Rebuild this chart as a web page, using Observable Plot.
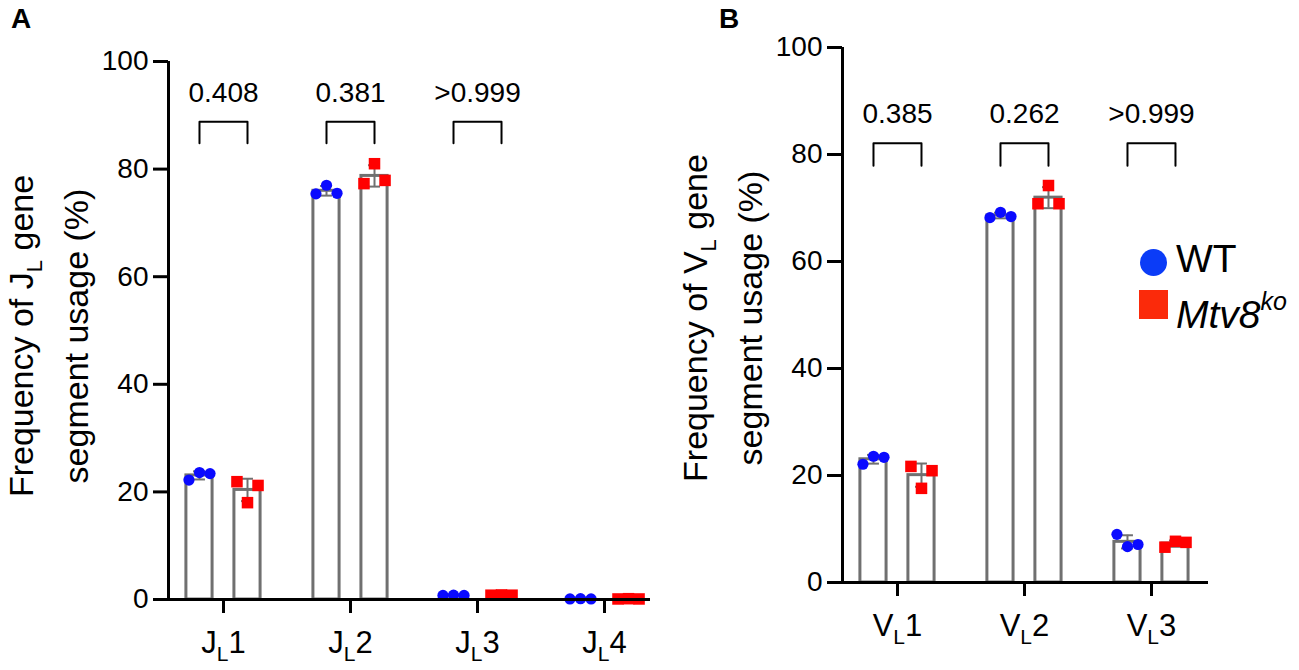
<!DOCTYPE html>
<html><head><meta charset="utf-8">
<script src="https://cdn.jsdelivr.net/npm/d3@7"></script>
<script src="https://cdn.jsdelivr.net/npm/@observablehq/plot@0.6"></script>
<style>
body{margin:0;background:#fff;font-family:"Liberation Sans",Arial,Helvetica,sans-serif;}
#fig{position:relative;width:1299px;height:670px;overflow:hidden;background:#fff;}
.panel{position:absolute;top:0;}
.lab{position:absolute;font-weight:bold;font-size:28px;line-height:28px;}
.ytitle{position:absolute;transform:translate(-50%,-50%) rotate(-90deg);white-space:nowrap;text-align:center;font-size:34px;line-height:50px;color:#000;}
.ytitle sub{font-size:22px;vertical-align:baseline;position:relative;top:9px;}
.leg{position:absolute;font-size:39px;line-height:39px;white-space:nowrap;}
.leg sup{font-size:25px;vertical-align:baseline;position:relative;top:-18px;}
</style></head><body>
<div id="fig">
  <div id="panelA" class="panel" style="left:0"></div>
  <div id="panelB" class="panel" style="left:660px"></div>
  <div class="lab" style="left:11px;top:5px">A</div>
  <div class="lab" style="left:719px;top:5px">B</div>
  <div class="ytitle" style="left:48px;top:336px">Frequency of J<sub>L</sub> gene<br>segment usage (%)</div>
  <div class="ytitle" style="left:722px;top:318px">Frequency of V<sub>L</sub> gene<br>segment usage (%)</div>
  <div style="position:absolute;left:1140px;top:249px;width:27px;height:27px;border-radius:50%;background:#0b3cf7"></div>
  <div class="leg" style="left:1176px;top:239px">WT</div>
  <div style="position:absolute;left:1139px;top:290px;width:29px;height:29px;background:#fb2a0a"></div>
  <div class="leg" style="left:1176px;top:295px;font-style:italic">Mtv8<sup>ko</sup></div>
</div>
<script>
// ---- data ----
const catsA = ["J_L1", "J_L2", "J_L3", "J_L4"];
const wtA = [[22.2, 23.6, 23.4], [75.4, 77.0, 75.5], [0.75, 0.8, 0.75], [0.1, 0.15, 0.1]];
const koA = [[21.9, 18.0, 21.2], [77.3, 81.0, 77.9], [0.8, 0.85, 0.8], [0.1, 0.15, 0.1]];
const pA = ["0.408", "0.381", ">0.999"];

const catsB = ["V_L1", "V_L2", "V_L3"];
const wtB = [[22.1, 23.6, 23.4], [68.2, 69.2, 68.4], [9.0, 6.7, 7.1]];
const koB = [[21.7, 17.6, 20.9], [70.8, 74.2, 70.8], [6.6, 7.7, 7.5]];
const pB = ["0.385", "0.262", ">0.999"];

const yTicks = [0, 20, 40, 60, 80, 100];

// ---- drawing ----
const GRAY = "#707070";
function build(cats, wt, ko, pvals, o) {
  const OFF = 0.189, HW = 0.103, DOT = 0.083, CAP = 0.047;
  const bars = [], pts = [];
  cats.forEach((c, i) => {
    [[wt[i], "WT", -1], [ko[i], "KO", 1]].forEach(([vals, g, s]) => {
      const m = d3.mean(vals), sd = d3.deviation(vals);
      const cx = i + s * OFF;
      bars.push({x1: cx - HW, x2: cx + HW, mean: m, lo: m - sd, hi: m + sd, cx, g});
      vals.forEach((v, k) => pts.push({x: cx + (k - 1) * DOT, y: v, g}));
    });
  });
  const brPts = pvals.flatMap((p, i) =>
    [[i - OFF, o.brLeg], [i - OFF, o.brTop], [i + OFF, o.brTop], [i + OFF, o.brLeg]]
      .map(([x, y]) => ({x, y, i})));
  const brTxt = pvals.map((p, i) => ({x: i, p}));
  const svg = Plot.plot({
    width: o.width, height: 670,
    marginLeft: o.ml, marginRight: o.mr, marginTop: o.mt, marginBottom: o.mb,
    x: {domain: o.xdom, axis: null},
    y: {domain: [0, 100], axis: null},
    style: {fontFamily: "'Liberation Sans', Arial, sans-serif", background: "white", color: "black"},
    marks: [
      Plot.rectY(bars, {x1: "x1", x2: "x2", y1: 0, y2: "mean", fill: "white", stroke: GRAY, strokeWidth: 3}),
      Plot.ruleX(bars, {x: "cx", y1: "lo", y2: "hi", stroke: GRAY, strokeWidth: 2}),
      Plot.ruleY(bars, {y: "hi", x1: d => d.cx - CAP, x2: d => d.cx + CAP, stroke: GRAY, strokeWidth: 2}),
      Plot.ruleY(bars, {y: "lo", x1: d => d.cx - CAP, x2: d => d.cx + CAP, stroke: GRAY, strokeWidth: 2}),
      Plot.dot(pts.filter(d => d.g === "WT"), {x: "x", y: "y", r: 5.6, fill: "#0a0aff", symbol: "circle"}),
      Plot.dot(pts.filter(d => d.g === "KO"), {x: "x", y: "y", r: 6.5, fill: "#ff0000", symbol: "square"}),
      Plot.line(brPts, {x: "x", y: "y", z: "i", stroke: "black", strokeWidth: 2}),
      Plot.text(brTxt, {x: "x", y: () => o.pText, text: "p", fontSize: 28, lineAnchor: "bottom", fill: "black"}),
      Plot.ruleY([0], {stroke: "black", strokeWidth: 3}),
      Plot.ruleX([o.xdom[0]], {stroke: "black", strokeWidth: 3}),
      Plot.axisY(yTicks, {tickSize: 15, tickPadding: 5, fontSize: 28, strokeWidth: 3, stroke: "black"}),
      Plot.axisX(d3.range(cats.length), {tickSize: 14, tickPadding: 17, fontSize: 31, strokeWidth: 3, stroke: "black", tickFormat: i => cats[i]})
    ]
  });
  // thicker tick marks
  svg.querySelectorAll('[aria-label="y-axis tick"], [aria-label="x-axis tick"]').forEach(g => {
    g.setAttribute("stroke-width", "3");
    g.querySelectorAll("path,line").forEach(p => p.setAttribute("stroke-width", "3"));
  });
  // subscript in x tick labels
  svg.querySelectorAll('[aria-label="x-axis tick label"] text').forEach(t => {
    const s = t.textContent;
    const [main, rest] = s.split("_");
    const sub = rest[0], tail = rest.slice(1);
    t.textContent = "";
    const ns = "http://www.w3.org/2000/svg";
    const a = document.createElementNS(ns, "tspan"); a.textContent = main;
    const b = document.createElementNS(ns, "tspan"); b.textContent = sub;
    b.setAttribute("font-size", "21"); b.setAttribute("dy", "8");
    const c = document.createElementNS(ns, "tspan"); c.textContent = tail;
    c.setAttribute("dy", "-8");
    t.append(a, b, c);
  });
  return svg;
}

document.getElementById("panelA").append(build(catsA, wtA, koA, pA, {
  width: 660, ml: 168, mr: 10, mt: 61, mb: 71, xdom: [-0.433, 3.362],
  brLeg: 84.8, brTop: 88.8, pText: 92.4
}));
document.getElementById("panelB").append(build(catsB, wtB, koB, pB, {
  width: 639, ml: 182, mr: 91, mt: 47, mb: 88, xdom: [-0.433, 2.449],
  brLeg: 77.9, brTop: 82.1, pText: 85.8
}));
</script>
</body></html>
